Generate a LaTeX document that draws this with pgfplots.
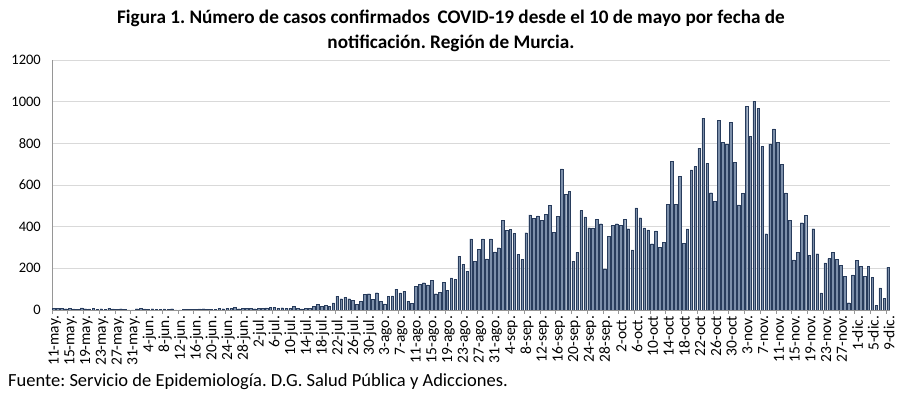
\documentclass[border=0pt]{standalone}
\usepackage{pgfplots}
\usepackage{pgfplotstable}
\pgfplotsset{compat=1.18}
\usepackage{fontspec}
\setmainfont{Carlito}
\frenchspacing
\definecolor{barfill}{RGB}{124,143,170}
\definecolor{baredge}{RGB}{40,60,92}
\definecolor{gridc}{RGB}{217,217,217}
\definecolor{axisc}{RGB}{150,150,150}
\pgfplotstableread{
i v
0 8
1 7
2 9
3 6
4 8
5 5
6 3
7 10
8 6
9 5
10 9
11 4
12 6
13 2
14 8
15 5
16 4
17 6
18 3
19 0
20 1
21 6
22 7
23 5
24 4
25 6
26 3
27 2
28 5
29 4
30 6
31 1
32 0
33 2
34 4
35 3
36 4
37 5
38 6
39 3
40 2
41 4
42 8
43 6
44 9
45 7
46 12
47 6
48 8
49 9
50 7
51 6
52 8
53 7
54 10
55 12
56 14
57 9
58 11
59 8
60 8
61 19
62 8
63 5
64 8
65 8
66 18
67 26
68 18
69 22
70 16
71 34
72 66
73 54
74 62
75 54
76 45
77 26
78 42
79 74
80 78
81 50
82 83
83 42
84 29
85 66
86 68
87 100
88 82
89 90
90 42
91 32
92 115
93 124
94 131
95 120
96 141
97 78
98 86
99 132
100 95
101 154
102 146
103 258
104 219
105 187
106 341
107 232
108 292
109 341
110 245
111 341
112 279
113 299
114 430
115 383
116 388
117 367
118 267
119 242
120 371
121 456
122 439
123 452
124 431
125 459
126 502
127 372
128 448
129 677
130 554
131 569
132 235
133 277
134 477
135 447
136 395
137 394
138 435
139 414
140 198
141 352
142 405
143 414
144 405
145 435
146 390
147 288
148 490
149 443
150 394
151 385
152 318
153 380
154 301
155 325
156 506
157 715
158 508
159 643
160 320
161 389
162 672
163 688
164 777
165 921
166 703
167 563
168 520
169 910
170 806
171 795
172 901
173 708
174 504
175 559
176 976
177 833
178 1002
179 968
180 784
181 366
182 797
183 869
184 806
185 700
186 562
187 429
188 241
189 276
190 419
191 453
192 262
193 390
194 270
195 82
196 226
197 247
198 278
199 244
200 215
201 161
202 35
203 169
204 238
205 210
206 162
207 210
208 157
209 22
210 106
211 55
212 204
}\datatable
\begin{document}
\begin{tikzpicture}[x=1pt,y=1pt]
\path[use as bounding box] (0,0) rectangle (900,398);
\node[font=\fontsize{19.2}{22}\selectfont\bfseries, anchor=center, inner sep=0pt] at (451,380) {Figura 1. Número de casos confirmados \,COVID-19 desde el 10 de mayo por fecha de};
\node[font=\fontsize{19.2}{22}\selectfont\bfseries, anchor=center, inner sep=0pt] at (451,355) {notificación. Región de Murcia.};
\node[font=\fontsize{18.5}{21}\selectfont, anchor=west, inner sep=0pt] at (8,16) {Fuente: Servicio de Epidemiología. D.G. Salud Pública y Adicciones.};
\begin{axis}[
  at={(52pt,88pt)}, anchor=south west,
  scale only axis, width=838pt, height=250pt,
  xmin=-0.5, xmax=212.5, ymin=0, ymax=1200,
  ytick={0,200,...,1200},
  ymajorgrids, grid style={gridc, line width=0.8pt},
  axis x line*=bottom, axis y line*=left,
  axis line style={axisc, line width=0.8pt},
  tick style={axisc, line width=0.6pt},
  ytick style={draw=none},
  xtick={0,4,...,212},
  xticklabels={11-may.,15-may.,19-may.,23-may.,27-may.,31-may.,4-jun.,8-jun.,12-jun.,16-jun.,20-jun.,24-jun.,28-jun.,2-jul.,6-jul.,10-jul.,14-jul.,18-jul.,22-jul.,26-jul.,30-jul.,3-ago.,7-ago.,11-ago.,15-ago.,19-ago.,23-ago.,27-ago.,31-ago.,4-sep.,8-sep.,12-sep.,16-sep.,20-sep.,24-sep.,28-sep.,2-oct.,6-oct.,10-oct,14-oct,18-oct,22-oct,26-oct,30-oct,3-nov.,7-nov.,11-nov.,15-nov.,19-nov.,23-nov.,27-nov.,1-dic.,5-dic.,9-dic.},
  major x tick style={draw=none},
  extra x ticks={-0.5,3.5,...,212},
  extra x tick labels={},
  extra x tick style={major tick length=4pt, tick align=outside, major x tick style={draw=axisc}},
  xticklabel style={rotate=90, anchor=east, font=\fontsize{15.5}{17}\selectfont, inner sep=1.5pt, yshift=-1pt},
  yticklabel style={font=\fontsize{14.5}{16}\selectfont, inner sep=1pt, xshift=-10pt},
  /pgf/number format/assume math mode=true,
  /pgf/number format/1000 sep={},
  ybar, bar width=0.66,
]
\addplot[fill=barfill, draw=baredge, line width=0.4pt] table[x=i, y=v] {\datatable};
\end{axis}
\end{tikzpicture}
\end{document}
